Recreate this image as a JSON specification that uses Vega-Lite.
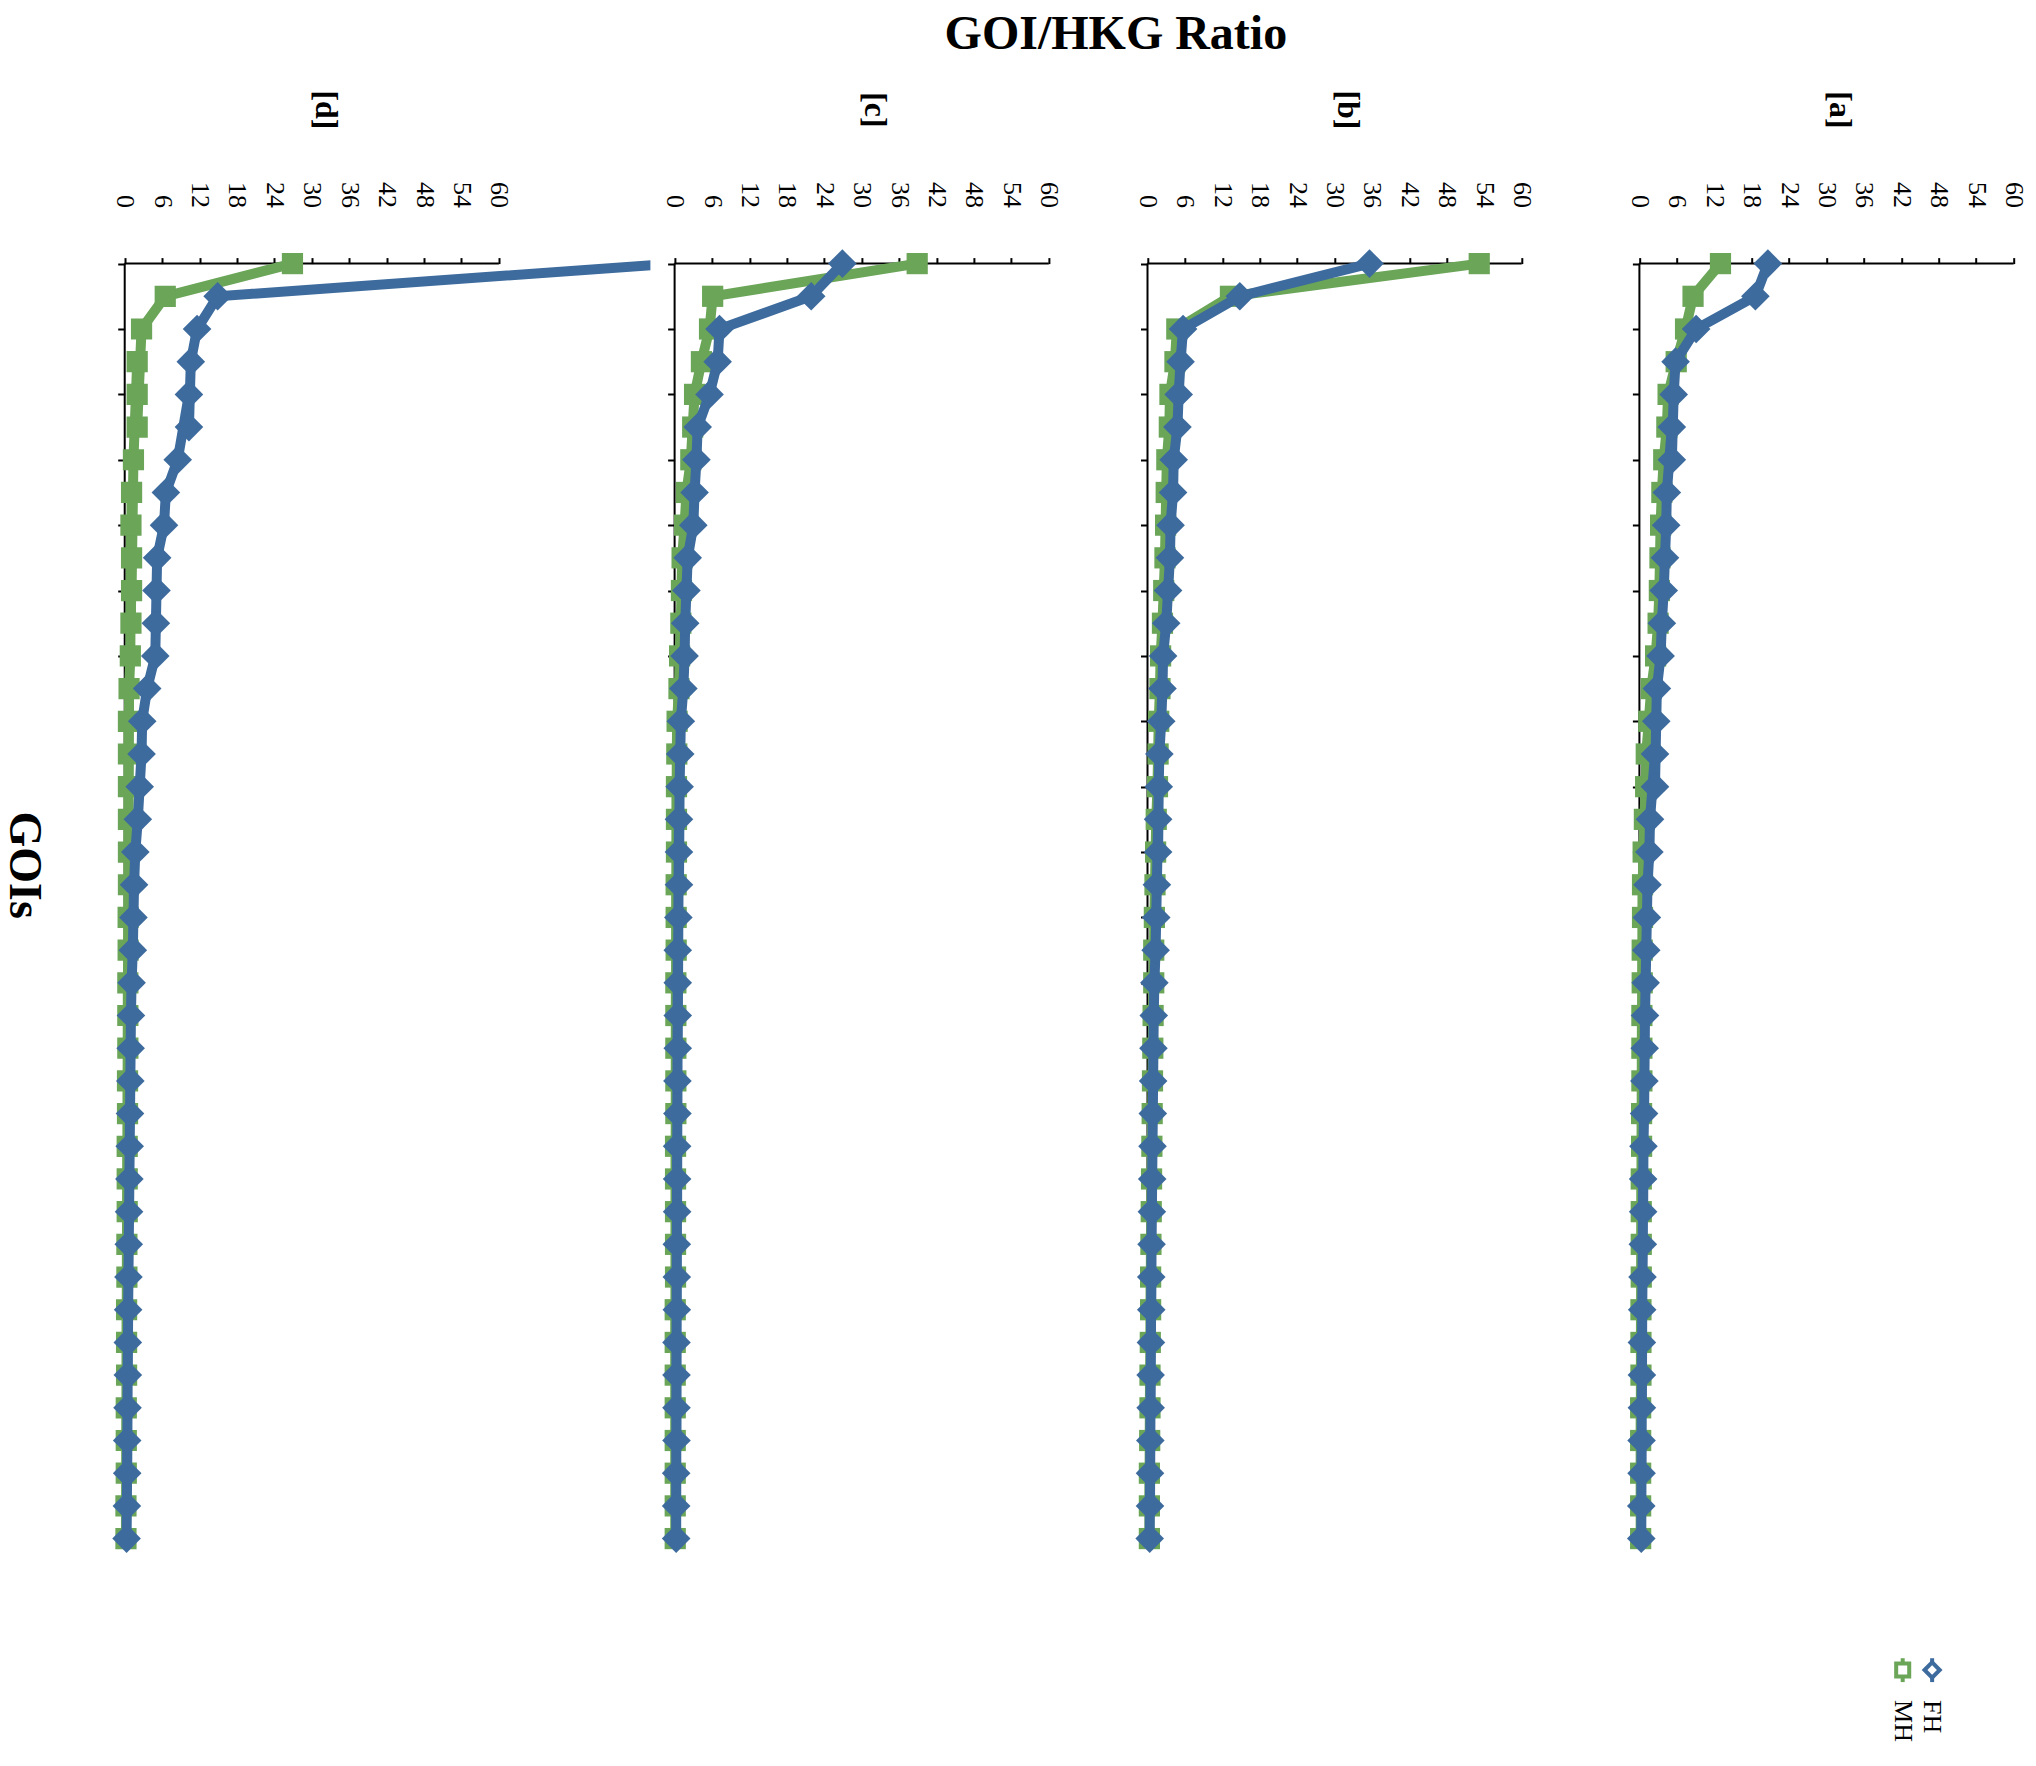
{
 "$schema": "https://vega.github.io/schema/vega-lite/v6.json",
 "autosize": {"type": "pad"},
 "padding": {"left": 0, "top": 11, "right": 0, "bottom": 0},
 "background": "white",
 "title": {"text": "GOI/HKG Ratio", "font": "Liberation Serif", "fontSize": 48, "fontWeight": "bold", "color": "black", "anchor": "start", "frame": "group", "dx": 838.6, "offset": 31.4},
 "datasets": {"gois": [
  {"panel":"a","goi":1,"FH":20.6,"MH":13.0},{"panel":"a","goi":2,"FH":18.6,"MH":8.6},{"panel":"a","goi":3,"FH":9.1,"MH":7.4},{"panel":"a","goi":4,"FH":5.8,"MH":5.9},{"panel":"a","goi":5,"FH":5.5,"MH":4.6},{"panel":"a","goi":6,"FH":5.2,"MH":4.4},{"panel":"a","goi":7,"FH":5.2,"MH":3.9},{"panel":"a","goi":8,"FH":4.4,"MH":3.6},{"panel":"a","goi":9,"FH":4.3,"MH":3.4},{"panel":"a","goi":10,"FH":4.1,"MH":3.3},
  {"panel":"a","goi":11,"FH":3.9,"MH":3.2},{"panel":"a","goi":12,"FH":3.6,"MH":3.0},{"panel":"a","goi":13,"FH":3.4,"MH":2.6},{"panel":"a","goi":14,"FH":2.8,"MH":1.9},{"panel":"a","goi":15,"FH":2.7,"MH":1.5},{"panel":"a","goi":16,"FH":2.5,"MH":1.1},{"panel":"a","goi":17,"FH":2.5,"MH":1.0},{"panel":"a","goi":18,"FH":1.7,"MH":0.8},{"panel":"a","goi":19,"FH":1.6,"MH":0.6},{"panel":"a","goi":20,"FH":1.3,"MH":0.5},
  {"panel":"a","goi":21,"FH":1.2,"MH":0.5},{"panel":"a","goi":22,"FH":1.1,"MH":0.45},{"panel":"a","goi":23,"FH":1.0,"MH":0.45},{"panel":"a","goi":24,"FH":0.9,"MH":0.4},{"panel":"a","goi":25,"FH":0.85,"MH":0.4},{"panel":"a","goi":26,"FH":0.8,"MH":0.4},{"panel":"a","goi":27,"FH":0.75,"MH":0.35},{"panel":"a","goi":28,"FH":0.65,"MH":0.35},{"panel":"a","goi":29,"FH":0.6,"MH":0.3},{"panel":"a","goi":30,"FH":0.6,"MH":0.3},
  {"panel":"a","goi":31,"FH":0.55,"MH":0.3},{"panel":"a","goi":32,"FH":0.5,"MH":0.3},{"panel":"a","goi":33,"FH":0.45,"MH":0.25},{"panel":"a","goi":34,"FH":0.4,"MH":0.25},{"panel":"a","goi":35,"FH":0.4,"MH":0.25},{"panel":"a","goi":36,"FH":0.4,"MH":0.2},{"panel":"a","goi":37,"FH":0.35,"MH":0.2},{"panel":"a","goi":38,"FH":0.35,"MH":0.2},{"panel":"a","goi":39,"FH":0.3,"MH":0.2},{"panel":"a","goi":40,"FH":0.3,"MH":0.2},
  {"panel":"b","goi":1,"FH":35.6,"MH":53.2},{"panel":"b","goi":2,"FH":14.8,"MH":13.3},{"panel":"b","goi":3,"FH":5.7,"MH":4.7},{"panel":"b","goi":4,"FH":5.3,"MH":4.4},{"panel":"b","goi":5,"FH":5.0,"MH":3.6},{"panel":"b","goi":6,"FH":4.8,"MH":3.5},{"panel":"b","goi":7,"FH":4.2,"MH":3.1},{"panel":"b","goi":8,"FH":4.1,"MH":3.0},{"panel":"b","goi":9,"FH":3.7,"MH":2.9},{"panel":"b","goi":10,"FH":3.6,"MH":2.8},
  {"panel":"b","goi":11,"FH":3.3,"MH":2.6},{"panel":"b","goi":12,"FH":3.0,"MH":2.4},{"panel":"b","goi":13,"FH":2.5,"MH":2.1},{"panel":"b","goi":14,"FH":2.4,"MH":2.0},{"panel":"b","goi":15,"FH":2.2,"MH":1.8},{"panel":"b","goi":16,"FH":1.9,"MH":1.7},{"panel":"b","goi":17,"FH":1.8,"MH":1.6},{"panel":"b","goi":18,"FH":1.7,"MH":1.4},{"panel":"b","goi":19,"FH":1.7,"MH":1.3},{"panel":"b","goi":20,"FH":1.5,"MH":1.2},
  {"panel":"b","goi":21,"FH":1.4,"MH":1.1},{"panel":"b","goi":22,"FH":1.3,"MH":1.0},{"panel":"b","goi":23,"FH":1.1,"MH":1.0},{"panel":"b","goi":24,"FH":1.0,"MH":0.9},{"panel":"b","goi":25,"FH":0.95,"MH":0.85},{"panel":"b","goi":26,"FH":0.9,"MH":0.8},{"panel":"b","goi":27,"FH":0.85,"MH":0.75},{"panel":"b","goi":28,"FH":0.8,"MH":0.7},{"panel":"b","goi":29,"FH":0.75,"MH":0.65},{"panel":"b","goi":30,"FH":0.7,"MH":0.6},
  {"panel":"b","goi":31,"FH":0.65,"MH":0.55},{"panel":"b","goi":32,"FH":0.6,"MH":0.5},{"panel":"b","goi":33,"FH":0.6,"MH":0.5},{"panel":"b","goi":34,"FH":0.55,"MH":0.45},{"panel":"b","goi":35,"FH":0.5,"MH":0.4},{"panel":"b","goi":36,"FH":0.5,"MH":0.4},{"panel":"b","goi":37,"FH":0.45,"MH":0.35},{"panel":"b","goi":38,"FH":0.4,"MH":0.3},{"panel":"b","goi":39,"FH":0.4,"MH":0.3},{"panel":"b","goi":40,"FH":0.35,"MH":0.3},
  {"panel":"c","goi":1,"FH":26.9,"MH":38.9},{"panel":"c","goi":2,"FH":21.9,"MH":6.1},{"panel":"c","goi":3,"FH":7.2,"MH":5.6},{"panel":"c","goi":4,"FH":6.9,"MH":4.3},{"panel":"c","goi":5,"FH":5.6,"MH":3.2},{"panel":"c","goi":6,"FH":3.7,"MH":2.9},{"panel":"c","goi":7,"FH":3.5,"MH":2.6},{"panel":"c","goi":8,"FH":3.2,"MH":1.9},{"panel":"c","goi":9,"FH":3.0,"MH":1.6},{"panel":"c","goi":10,"FH":2.1,"MH":1.2},
  {"panel":"c","goi":11,"FH":1.9,"MH":1.1},{"panel":"c","goi":12,"FH":1.7,"MH":1.0},{"panel":"c","goi":13,"FH":1.6,"MH":0.8},{"panel":"c","goi":14,"FH":1.4,"MH":0.7},{"panel":"c","goi":15,"FH":1.0,"MH":0.4},{"panel":"c","goi":16,"FH":0.9,"MH":0.35},{"panel":"c","goi":17,"FH":0.8,"MH":0.3},{"panel":"c","goi":18,"FH":0.7,"MH":0.3},{"panel":"c","goi":19,"FH":0.7,"MH":0.3},{"panel":"c","goi":20,"FH":0.7,"MH":0.25},
  {"panel":"c","goi":21,"FH":0.6,"MH":0.25},{"panel":"c","goi":22,"FH":0.5,"MH":0.25},{"panel":"c","goi":23,"FH":0.5,"MH":0.2},{"panel":"c","goi":24,"FH":0.5,"MH":0.2},{"panel":"c","goi":25,"FH":0.5,"MH":0.2},{"panel":"c","goi":26,"FH":0.45,"MH":0.2},{"panel":"c","goi":27,"FH":0.45,"MH":0.2},{"panel":"c","goi":28,"FH":0.4,"MH":0.15},{"panel":"c","goi":29,"FH":0.4,"MH":0.15},{"panel":"c","goi":30,"FH":0.4,"MH":0.15},
  {"panel":"c","goi":31,"FH":0.35,"MH":0.15},{"panel":"c","goi":32,"FH":0.35,"MH":0.15},{"panel":"c","goi":33,"FH":0.35,"MH":0.1},{"panel":"c","goi":34,"FH":0.3,"MH":0.1},{"panel":"c","goi":35,"FH":0.3,"MH":0.1},{"panel":"c","goi":36,"FH":0.3,"MH":0.1},{"panel":"c","goi":37,"FH":0.3,"MH":0.1},{"panel":"c","goi":38,"FH":0.25,"MH":0.1},{"panel":"c","goi":39,"FH":0.25,"MH":0.1},{"panel":"c","goi":40,"FH":0.25,"MH":0.1},
  {"panel":"d","goi":1,"FH":88,"MH":26.9},{"panel":"d","goi":2,"FH":14.9,"MH":6.5},{"panel":"d","goi":3,"FH":11.6,"MH":2.7},{"panel":"d","goi":4,"FH":10.6,"MH":2.0},{"panel":"d","goi":5,"FH":10.3,"MH":2.0},{"panel":"d","goi":6,"FH":10.3,"MH":2.0},{"panel":"d","goi":7,"FH":8.5,"MH":1.4},{"panel":"d","goi":8,"FH":6.6,"MH":1.1},{"panel":"d","goi":9,"FH":6.3,"MH":1.0},{"panel":"d","goi":10,"FH":5.2,"MH":1.1},
  {"panel":"d","goi":11,"FH":5.1,"MH":1.1},{"panel":"d","goi":12,"FH":5.0,"MH":1.0},{"panel":"d","goi":13,"FH":4.9,"MH":0.9},{"panel":"d","goi":14,"FH":3.6,"MH":0.7},{"panel":"d","goi":15,"FH":2.8,"MH":0.6},{"panel":"d","goi":16,"FH":2.7,"MH":0.6},{"panel":"d","goi":17,"FH":2.4,"MH":0.6},{"panel":"d","goi":18,"FH":2.1,"MH":0.6},{"panel":"d","goi":19,"FH":1.7,"MH":0.6},{"panel":"d","goi":20,"FH":1.5,"MH":0.6},
  {"panel":"d","goi":21,"FH":1.4,"MH":0.55},{"panel":"d","goi":22,"FH":1.3,"MH":0.55},{"panel":"d","goi":23,"FH":1.1,"MH":0.5},{"panel":"d","goi":24,"FH":1.0,"MH":0.5},{"panel":"d","goi":25,"FH":0.95,"MH":0.5},{"panel":"d","goi":26,"FH":0.9,"MH":0.45},{"panel":"d","goi":27,"FH":0.85,"MH":0.45},{"panel":"d","goi":28,"FH":0.8,"MH":0.4},{"panel":"d","goi":29,"FH":0.75,"MH":0.4},{"panel":"d","goi":30,"FH":0.7,"MH":0.4},
  {"panel":"d","goi":31,"FH":0.65,"MH":0.35},{"panel":"d","goi":32,"FH":0.6,"MH":0.35},{"panel":"d","goi":33,"FH":0.55,"MH":0.3},{"panel":"d","goi":34,"FH":0.5,"MH":0.3},{"panel":"d","goi":35,"FH":0.5,"MH":0.3},{"panel":"d","goi":36,"FH":0.45,"MH":0.25},{"panel":"d","goi":37,"FH":0.4,"MH":0.25},{"panel":"d","goi":38,"FH":0.4,"MH":0.25},{"panel":"d","goi":39,"FH":0.35,"MH":0.2},{"panel":"d","goi":40,"FH":0.3,"MH":0.2}
 ]},
 "spacing": 4.9,
 "bounds": "flush",
 "hconcat": [
  {
   "width": 544.4, "height": 1314.2,
   "layer": [
    {"data": {"values": [{}]}, "mark": {"type": "rule", "color": "black", "strokeWidth": 2},
     "encoding": {"x": {"datum": 0, "type": "quantitative", "title": null, "scale": {"domain": [-3, 84.3], "nice": false, "zero": false}}, "x2": {"datum": 60},
                  "y": {"datum": 1, "type": "quantitative", "title": null, "scale": {"domain": [0.4, 40.6], "reverse": true, "nice": false, "zero": false}}}},
    {"data": {"values": [{}]}, "mark": {"type": "rule", "color": "black", "strokeWidth": 2},
     "encoding": {"x": {"datum": 0, "type": "quantitative", "title": null, "scale": {"domain": [-3, 84.3], "nice": false, "zero": false}},
                  "y": {"datum": 1, "type": "quantitative", "title": null, "scale": {"domain": [0.4, 40.6], "reverse": true, "nice": false, "zero": false}}, "y2": {"datum": 40}}},
    {"data": {"name": "gois"}, "transform": [{"filter": "datum.panel === 'd'"}],
     "encoding": {
      "x": {"field": "ratio", "type": "quantitative", "title": null, "scale": {"domain": [-3, 84.3], "nice": false, "zero": false},
            "axis": {"orient": "top", "values": [0,6,12,18,24,30,36,42,48,54,60], "labelAngle": 90, "labelAlign": "right", "labelBaseline": "middle", "labelPadding": 50, "labelFontSize": 26, "labelOverlap": false, "labelBound": false, "tickSize": 6, "offset": -19.6, "title": null}},
      "y": {"field": "goi", "type": "quantitative", "title": null, "scale": {"domain": [0.4, 40.6], "reverse": true, "nice": false, "zero": false},
            "axis": {"orient": "left", "values": [1,2,3,4,5,6,7,8,9,10,11,12,13,14,15,16,17,18,19,20,21,22,23,24,25,26,27,28,29,30,31,32,33,34,35,36,37,38,39,40], "labels": false, "tickSize": 7, "offset": -18.7, "title": null}},
      "color": {"field": "series", "type": "nominal", "scale": {"domain": ["MH", "FH"], "range": ["#6AA558", "#3D6B9E"]}}
     },
     "layer": [
      {"transform": [{"fold": ["MH"], "as": ["series", "ratio"]}], "mark": {"type": "line", "strokeWidth": 10, "clip": true}},
      {"transform": [{"fold": ["MH"], "as": ["series", "ratio"]}], "mark": {"type": "point", "filled": true, "opacity": 1, "size": 450, "clip": true},
       "encoding": {"shape": {"field": "series", "type": "nominal", "scale": {"domain": ["MH", "FH"], "range": ["square", "diamond"]}}}},
      {"transform": [{"fold": ["FH"], "as": ["series", "ratio"]}], "mark": {"type": "line", "strokeWidth": 10, "clip": true}},
      {"transform": [{"fold": ["FH"], "as": ["series", "ratio"]}], "mark": {"type": "point", "filled": true, "opacity": 1, "size": 820, "clip": true},
       "encoding": {"shape": {"field": "series", "type": "nominal", "scale": {"domain": ["MH", "FH"], "range": ["square", "diamond"]}}}}
     ]
    },
    {"data": {"values": [{"t": "[d]"}]}, "mark": {"type": "text", "angle": 90, "font": "Liberation Serif", "fontSize": 32, "fontWeight": "bold", "color": "black", "align": "center", "baseline": "middle"},
     "encoding": {"x": {"datum": 32.2, "type": "quantitative", "title": null, "scale": {"domain": [-3, 84.3], "nice": false, "zero": false}},
                  "y": {"datum": -3.7, "type": "quantitative", "title": null, "scale": {"domain": [0.4, 40.6], "reverse": true, "nice": false, "zero": false}},
                  "text": {"field": "t"}}},
    {"data": {"values": [{"t": "GOIs"}]}, "mark": {"type": "text", "angle": 90, "font": "Liberation Serif", "fontSize": 46, "fontWeight": "bold", "color": "black", "align": "center", "baseline": "middle"},
     "encoding": {"x": {"datum": -16.2, "type": "quantitative", "title": null, "scale": {"domain": [-3, 84.3], "nice": false, "zero": false}},
                  "y": {"datum": 19.4, "type": "quantitative", "title": null, "scale": {"domain": [0.4, 40.6], "reverse": true, "nice": false, "zero": false}},
                  "text": {"field": "t"}}}
   ]
  },
  {
   "width": 467.7, "height": 1314.2,
   "layer": [
    {"data": {"values": [{}]}, "mark": {"type": "rule", "color": "black", "strokeWidth": 2},
     "encoding": {"x": {"datum": 0, "type": "quantitative", "title": null, "scale": {"domain": [-3, 72], "nice": false, "zero": false}}, "x2": {"datum": 60},
                  "y": {"datum": 1, "type": "quantitative", "title": null, "scale": {"domain": [0.4, 40.6], "reverse": true, "nice": false, "zero": false}}}},
    {"data": {"values": [{}]}, "mark": {"type": "rule", "color": "black", "strokeWidth": 2},
     "encoding": {"x": {"datum": 0, "type": "quantitative", "title": null, "scale": {"domain": [-3, 72], "nice": false, "zero": false}},
                  "y": {"datum": 1, "type": "quantitative", "title": null, "scale": {"domain": [0.4, 40.6], "reverse": true, "nice": false, "zero": false}}, "y2": {"datum": 40}}},
    {"data": {"name": "gois"}, "transform": [{"filter": "datum.panel === 'c'"}],
     "encoding": {
      "x": {"field": "ratio", "type": "quantitative", "title": null, "scale": {"domain": [-3, 72], "nice": false, "zero": false},
            "axis": {"orient": "top", "values": [0,6,12,18,24,30,36,42,48,54,60], "labelAngle": 90, "labelAlign": "right", "labelBaseline": "middle", "labelPadding": 50, "labelFontSize": 26, "labelOverlap": false, "labelBound": false, "tickSize": 6, "offset": -19.6, "title": null}},
      "y": {"field": "goi", "type": "quantitative", "title": null, "scale": {"domain": [0.4, 40.6], "reverse": true, "nice": false, "zero": false},
            "axis": {"orient": "left", "values": [1,2,3,4,5,6,7,8,9,10,11,12,13,14,15,16,17,18,19,20,21,22,23,24,25,26,27,28,29,30,31,32,33,34,35,36,37,38,39,40], "labels": false, "tickSize": 7, "offset": -18.7, "title": null}},
      "color": {"field": "series", "type": "nominal", "scale": {"domain": ["MH", "FH"], "range": ["#6AA558", "#3D6B9E"]}}
     },
     "layer": [
      {"transform": [{"fold": ["MH"], "as": ["series", "ratio"]}], "mark": {"type": "line", "strokeWidth": 10}},
      {"transform": [{"fold": ["MH"], "as": ["series", "ratio"]}], "mark": {"type": "point", "filled": true, "opacity": 1, "size": 450},
       "encoding": {"shape": {"field": "series", "type": "nominal", "scale": {"domain": ["MH", "FH"], "range": ["square", "diamond"]}}}},
      {"transform": [{"fold": ["FH"], "as": ["series", "ratio"]}], "mark": {"type": "line", "strokeWidth": 10}},
      {"transform": [{"fold": ["FH"], "as": ["series", "ratio"]}], "mark": {"type": "point", "filled": true, "opacity": 1, "size": 820},
       "encoding": {"shape": {"field": "series", "type": "nominal", "scale": {"domain": ["MH", "FH"], "range": ["square", "diamond"]}}}}
     ]
    },
    {"data": {"values": [{"t": "[c]"}]}, "mark": {"type": "text", "angle": 90, "font": "Liberation Serif", "fontSize": 32, "fontWeight": "bold", "color": "black", "align": "center", "baseline": "middle"},
     "encoding": {"x": {"datum": 32.2, "type": "quantitative", "title": null, "scale": {"domain": [-3, 72], "nice": false, "zero": false}},
                  "y": {"datum": -3.7, "type": "quantitative", "title": null, "scale": {"domain": [0.4, 40.6], "reverse": true, "nice": false, "zero": false}},
                  "text": {"field": "t"}}}
   ]
  },
  {
   "width": 487, "height": 1314.2,
   "layer": [
    {"data": {"values": [{}]}, "mark": {"type": "rule", "color": "black", "strokeWidth": 2},
     "encoding": {"x": {"datum": 0, "type": "quantitative", "title": null, "scale": {"domain": [-3, 75.1], "nice": false, "zero": false}}, "x2": {"datum": 60},
                  "y": {"datum": 1, "type": "quantitative", "title": null, "scale": {"domain": [0.4, 40.6], "reverse": true, "nice": false, "zero": false}}}},
    {"data": {"values": [{}]}, "mark": {"type": "rule", "color": "black", "strokeWidth": 2},
     "encoding": {"x": {"datum": 0, "type": "quantitative", "title": null, "scale": {"domain": [-3, 75.1], "nice": false, "zero": false}},
                  "y": {"datum": 1, "type": "quantitative", "title": null, "scale": {"domain": [0.4, 40.6], "reverse": true, "nice": false, "zero": false}}, "y2": {"datum": 40}}},
    {"data": {"name": "gois"}, "transform": [{"filter": "datum.panel === 'b'"}],
     "encoding": {
      "x": {"field": "ratio", "type": "quantitative", "title": null, "scale": {"domain": [-3, 75.1], "nice": false, "zero": false},
            "axis": {"orient": "top", "values": [0,6,12,18,24,30,36,42,48,54,60], "labelAngle": 90, "labelAlign": "right", "labelBaseline": "middle", "labelPadding": 50, "labelFontSize": 26, "labelOverlap": false, "labelBound": false, "tickSize": 6, "offset": -19.6, "title": null}},
      "y": {"field": "goi", "type": "quantitative", "title": null, "scale": {"domain": [0.4, 40.6], "reverse": true, "nice": false, "zero": false},
            "axis": {"orient": "left", "values": [1,2,3,4,5,6,7,8,9,10,11,12,13,14,15,16,17,18,19,20,21,22,23,24,25,26,27,28,29,30,31,32,33,34,35,36,37,38,39,40], "labels": false, "tickSize": 7, "offset": -18.7, "title": null}},
      "color": {"field": "series", "type": "nominal", "scale": {"domain": ["MH", "FH"], "range": ["#6AA558", "#3D6B9E"]}}
     },
     "layer": [
      {"transform": [{"fold": ["MH"], "as": ["series", "ratio"]}], "mark": {"type": "line", "strokeWidth": 10}},
      {"transform": [{"fold": ["MH"], "as": ["series", "ratio"]}], "mark": {"type": "point", "filled": true, "opacity": 1, "size": 450},
       "encoding": {"shape": {"field": "series", "type": "nominal", "scale": {"domain": ["MH", "FH"], "range": ["square", "diamond"]}}}},
      {"transform": [{"fold": ["FH"], "as": ["series", "ratio"]}], "mark": {"type": "line", "strokeWidth": 10}},
      {"transform": [{"fold": ["FH"], "as": ["series", "ratio"]}], "mark": {"type": "point", "filled": true, "opacity": 1, "size": 820},
       "encoding": {"shape": {"field": "series", "type": "nominal", "scale": {"domain": ["MH", "FH"], "range": ["square", "diamond"]}}}}
     ]
    },
    {"data": {"values": [{"t": "[b]"}]}, "mark": {"type": "text", "angle": 90, "font": "Liberation Serif", "fontSize": 32, "fontWeight": "bold", "color": "black", "align": "center", "baseline": "middle"},
     "encoding": {"x": {"datum": 32.2, "type": "quantitative", "title": null, "scale": {"domain": [-3, 75.1], "nice": false, "zero": false}},
                  "y": {"datum": -3.7, "type": "quantitative", "title": null, "scale": {"domain": [0.4, 40.6], "reverse": true, "nice": false, "zero": false}},
                  "text": {"field": "t"}}}
   ]
  },
  {
   "width": 409.1, "height": 1314.2,
   "layer": [
    {"data": {"values": [{}]}, "mark": {"type": "rule", "color": "black", "strokeWidth": 2},
     "encoding": {"x": {"datum": 0, "type": "quantitative", "title": null, "scale": {"domain": [-3, 62.6], "nice": false, "zero": false}}, "x2": {"datum": 60},
                  "y": {"datum": 1, "type": "quantitative", "title": null, "scale": {"domain": [0.4, 40.6], "reverse": true, "nice": false, "zero": false}}}},
    {"data": {"values": [{}]}, "mark": {"type": "rule", "color": "black", "strokeWidth": 2},
     "encoding": {"x": {"datum": 0, "type": "quantitative", "title": null, "scale": {"domain": [-3, 62.6], "nice": false, "zero": false}},
                  "y": {"datum": 1, "type": "quantitative", "title": null, "scale": {"domain": [0.4, 40.6], "reverse": true, "nice": false, "zero": false}}, "y2": {"datum": 40}}},
    {"data": {"name": "gois"}, "transform": [{"filter": "datum.panel === 'a'"}],
     "encoding": {
      "x": {"field": "ratio", "type": "quantitative", "title": null, "scale": {"domain": [-3, 62.6], "nice": false, "zero": false},
            "axis": {"orient": "top", "values": [0,6,12,18,24,30,36,42,48,54,60], "labelAngle": 90, "labelAlign": "right", "labelBaseline": "middle", "labelPadding": 50, "labelFontSize": 26, "labelOverlap": false, "labelBound": false, "tickSize": 6, "offset": -19.6, "title": null}},
      "y": {"field": "goi", "type": "quantitative", "title": null, "scale": {"domain": [0.4, 40.6], "reverse": true, "nice": false, "zero": false},
            "axis": {"orient": "left", "values": [1,2,3,4,5,6,7,8,9,10,11,12,13,14,15,16,17,18,19,20,21,22,23,24,25,26,27,28,29,30,31,32,33,34,35,36,37,38,39,40], "labels": false, "tickSize": 7, "offset": -18.7, "title": null}},
      "color": {"field": "series", "type": "nominal", "scale": {"domain": ["MH", "FH"], "range": ["#6AA558", "#3D6B9E"]}}
     },
     "layer": [
      {"transform": [{"fold": ["MH"], "as": ["series", "ratio"]}], "mark": {"type": "line", "strokeWidth": 10}},
      {"transform": [{"fold": ["MH"], "as": ["series", "ratio"]}], "mark": {"type": "point", "filled": true, "opacity": 1, "size": 450},
       "encoding": {"shape": {"field": "series", "type": "nominal", "scale": {"domain": ["MH", "FH"], "range": ["square", "diamond"]}}}},
      {"transform": [{"fold": ["FH"], "as": ["series", "ratio"]}], "mark": {"type": "line", "strokeWidth": 10}},
      {"transform": [{"fold": ["FH"], "as": ["series", "ratio"]}], "mark": {"type": "point", "filled": true, "opacity": 1, "size": 820},
       "encoding": {"shape": {"field": "series", "type": "nominal", "scale": {"domain": ["MH", "FH"], "range": ["square", "diamond"]}}}}
     ]
    },
    {"data": {"values": [{"t": "[a]"}]}, "mark": {"type": "text", "angle": 90, "font": "Liberation Serif", "fontSize": 32, "fontWeight": "bold", "color": "black", "align": "center", "baseline": "middle"},
     "encoding": {"x": {"datum": 32.2, "type": "quantitative", "title": null, "scale": {"domain": [-3, 62.6], "nice": false, "zero": false}},
                  "y": {"datum": -3.7, "type": "quantitative", "title": null, "scale": {"domain": [0.4, 40.6], "reverse": true, "nice": false, "zero": false}},
                  "text": {"field": "t"}}},
    {"data": {"values": [{}]}, "mark": {"type": "rule", "color": "#3D6B9E", "strokeWidth": 4},
     "encoding": {"x": {"datum": 46.94, "type": "quantitative", "title": null, "scale": {"domain": [-3, 62.6], "nice": false, "zero": false}},
                  "y": {"datum": 43.66, "type": "quantitative", "title": null, "scale": {"domain": [0.4, 40.6], "reverse": true, "nice": false, "zero": false}}, "y2": {"datum": 44.39}}},
    {"data": {"values": [{}]}, "mark": {"type": "rule", "color": "#6AA558", "strokeWidth": 4},
     "encoding": {"x": {"datum": 42.22, "type": "quantitative", "title": null, "scale": {"domain": [-3, 62.6], "nice": false, "zero": false}},
                  "y": {"datum": 43.66, "type": "quantitative", "title": null, "scale": {"domain": [0.4, 40.6], "reverse": true, "nice": false, "zero": false}}, "y2": {"datum": 44.39}}},
    {"data": {"values": [{}]}, "mark": {"type": "point", "shape": "diamond", "size": 230, "filled": true, "fill": "white", "stroke": "#3D6B9E", "strokeWidth": 4, "opacity": 1},
     "encoding": {"x": {"datum": 46.94, "type": "quantitative", "title": null, "scale": {"domain": [-3, 62.6], "nice": false, "zero": false}},
                  "y": {"datum": 44.02, "type": "quantitative", "title": null, "scale": {"domain": [0.4, 40.6], "reverse": true, "nice": false, "zero": false}}}},
    {"data": {"values": [{}]}, "mark": {"type": "point", "shape": "square", "size": 170, "filled": true, "fill": "white", "stroke": "#6AA558", "strokeWidth": 4, "opacity": 1},
     "encoding": {"x": {"datum": 42.22, "type": "quantitative", "title": null, "scale": {"domain": [-3, 62.6], "nice": false, "zero": false}},
                  "y": {"datum": 44.02, "type": "quantitative", "title": null, "scale": {"domain": [0.4, 40.6], "reverse": true, "nice": false, "zero": false}}}},
    {"data": {"values": [{"t": "FH"}, {"t": "MH"}]}, "transform": [{"filter": "datum.t === 'FH'"}],
     "mark": {"type": "text", "angle": 90, "font": "Liberation Serif", "fontSize": 26, "color": "black", "align": "left", "baseline": "middle"},
     "encoding": {"x": {"datum": 46.94, "type": "quantitative", "title": null, "scale": {"domain": [-3, 62.6], "nice": false, "zero": false}},
                  "y": {"datum": 44.94, "type": "quantitative", "title": null, "scale": {"domain": [0.4, 40.6], "reverse": true, "nice": false, "zero": false}},
                  "text": {"field": "t"}}},
    {"data": {"values": [{"t": "FH"}, {"t": "MH"}]}, "transform": [{"filter": "datum.t === 'MH'"}],
     "mark": {"type": "text", "angle": 90, "font": "Liberation Serif", "fontSize": 26, "color": "black", "align": "left", "baseline": "middle"},
     "encoding": {"x": {"datum": 42.22, "type": "quantitative", "title": null, "scale": {"domain": [-3, 62.6], "nice": false, "zero": false}},
                  "y": {"datum": 44.94, "type": "quantitative", "title": null, "scale": {"domain": [0.4, 40.6], "reverse": true, "nice": false, "zero": false}},
                  "text": {"field": "t"}}}
   ]
  }
 ],
 "config": {
  "view": {"stroke": null},
  "legend": {"disable": true},
  "axis": {"labelFont": "Liberation Serif", "labelColor": "black", "tickColor": "black", "tickWidth": 2, "grid": false, "domain": false}
 }
}
